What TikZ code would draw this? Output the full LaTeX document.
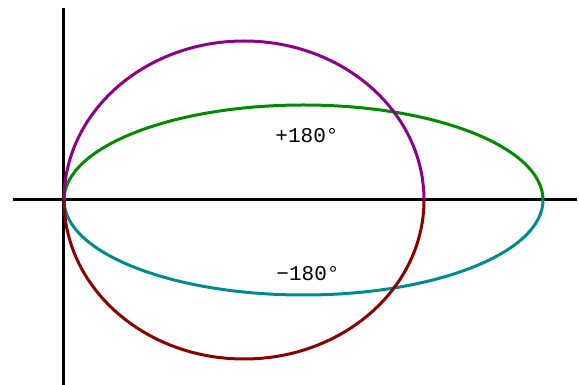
\documentclass[tikz,border=0pt]{standalone}
\usepackage{fontspec}
\setmonofont{Liberation Mono}
\definecolor{upcircle}{RGB}{140,0,140}
\definecolor{downcircle}{RGB}{140,0,0}
\definecolor{upoval}{RGB}{0,140,0}
\definecolor{downoval}{RGB}{0,140,140}
\begin{document}
\begin{tikzpicture}[x=1pt,y=1pt,line width=3pt]
\useasboundingbox (-64,-185) rectangle (515,200);
\draw (-51,0) -- (513,0);
\draw (0,192) -- (0,-185);
\draw[upoval] (0,0) arc[start angle=180,end angle=0,x radius=239.5,y radius=95];
\draw[downoval] (0,0) arc[start angle=180,end angle=360,x radius=239.5,y radius=95];
\draw[upcircle] (0,0) arc[start angle=180,end angle=0,x radius=180,y radius=159];
\draw[downcircle] (0,0) arc[start angle=180,end angle=360,x radius=180,y radius=159];
\node[font=\ttfamily\fontsize{21}{21}\selectfont] (plus) at (243,64) {+180°};
\node[font=\ttfamily\fontsize{21}{21}\selectfont] (minus) at (244,-74) {−180°};
\end{tikzpicture}
\end{document}
